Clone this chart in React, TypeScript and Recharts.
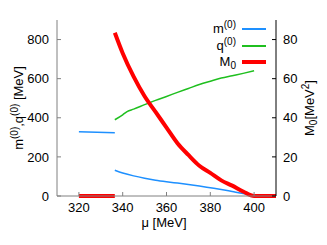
import { LineChart, Line, XAxis, YAxis } from 'recharts';

// mu grid [MeV] and values
const muM1 = [320, 336.4];
const m1 = [329, 324];
const muM2 = [336.4, 340, 345, 350, 355, 360, 365, 370, 375, 380, 385, 390, 395, 398, 400];
const m2 = [132, 118, 103, 91, 81, 73, 66, 59, 51, 42, 33, 23, 13, 6, 0];
const muQ = [336.4, 340, 342, 345, 350, 355, 360, 365, 370, 375, 380, 385, 390, 395, 400];
const q = [390, 415, 432, 444, 467, 489, 509, 530, 550, 570, 587, 603, 615, 627, 640];
const muR1 = [320, 336.4];
const r1 = [0, 0];
const muR2 = [336.4, 340, 345, 350, 355, 360, 365, 370, 375, 380, 385, 390, 395, 400, 410];
const r2 = [83.5, 73, 61, 51, 43, 35, 27, 21, 15.5, 11.8, 8, 5.3, 2.3, 0, 0];

const xTicks = [320, 340, 360, 380, 400];
const leftTicks = [0, 200, 400, 600, 800];
const rightTicks = [0, 20, 40, 60, 80];

const zip = (xs: number[], ys: number[]) => xs.map((mu, i) => ({ mu, v: ys[i] }));

const BLUE = '#1e90ff';
const GREEN = '#1fbf1f';
const RED = '#ff0000';
const GRAY = '#808080';
const FONT = '"Liberation Sans", Arial, sans-serif';

const legendItems = [
  { base: 'm', sup: '(0)', sub: '', color: BLUE, width: 2 },
  { base: 'q', sup: '(0)', sub: '', color: GREEN, width: 2 },
  { base: 'M', sup: '', sub: '0', color: RED, width: 4 },
];

// legend drawn as an overlay so it does not take room from the plot
const ChartLegend = () => (
  <div style={{ position: 'absolute', left: 180, top: 21, width: 90, fontFamily: FONT, fontSize: 13 }}>
    {legendItems.map((it, i) => (
      <div key={i} style={{ position: 'absolute', top: i * 16.5, left: 0, width: 90, height: 16, display: 'flex', alignItems: 'center' }}>
        <span style={{ width: 56, textAlign: 'right', lineHeight: '16px' }}>
          {it.base}
          {it.sup && <sup style={{ fontSize: 10, verticalAlign: '5px', lineHeight: 0 }}>{it.sup}</sup>}
          {it.sub && <sub style={{ fontSize: 10, verticalAlign: '-3px', lineHeight: 0 }}>{it.sub}</sub>}
        </span>
        <span style={{ marginLeft: 6, width: 24, height: it.width, background: it.color, display: 'inline-block' }} />
      </div>
    ))}
  </div>
);

export default function App() {
  return (
    <div style={{ position: 'absolute', left: 0, top: 0, width: 327, height: 245, background: '#fff' }}>
      <LineChart width={327} height={245} margin={{ top: 20, right: 0, bottom: 0, left: 0 }}>
        <XAxis
          dataKey="mu"
          type="number"
          domain={[310, 410]}
          ticks={xTicks}
          height={49}
          tickSize={-4}
          tickMargin={11}
          stroke={GRAY}
          tick={{ fill: '#000', fontSize: 13, fontFamily: FONT }}
          tickLine={{ stroke: GRAY }}
          allowDataOverflow
        />
        <XAxis
          xAxisId="top"
          orientation="top"
          dataKey="mu"
          type="number"
          domain={[310, 410]}
          ticks={xTicks}
          height={0}
          tickSize={-4}
          tickFormatter={() => ''}
          stroke={GRAY}
        />
        <YAxis
          yAxisId="left"
          domain={[0, 900]}
          ticks={leftTicks}
          width={57}
          tickSize={-4}
          tickMargin={12}
          stroke={GRAY}
          tick={{ fill: '#000', fontSize: 13, fontFamily: FONT }}
        />
        <YAxis
          yAxisId="right"
          orientation="right"
          domain={[0, 90]}
          ticks={rightTicks}
          width={51}
          tickSize={-4}
          tickMargin={11}
          stroke="#000"
          tick={{ fill: '#000', fontSize: 13, fontFamily: FONT }}
        />
        <Line yAxisId="left" type="linear" data={zip(muM1, m1)} dataKey="v" stroke={BLUE} strokeWidth={1.5} dot={false} isAnimationActive={false} />
        <Line yAxisId="left" type="monotone" data={zip(muM2, m2)} dataKey="v" stroke={BLUE} strokeWidth={1.5} dot={false} isAnimationActive={false} />
        <Line yAxisId="left" type="monotone" data={zip(muQ, q)} dataKey="v" stroke={GREEN} strokeWidth={1.5} dot={false} isAnimationActive={false} />
        <Line yAxisId="right" type="linear" data={zip(muR1, r1)} dataKey="v" stroke={RED} strokeWidth={4} dot={false} isAnimationActive={false} />
        <Line yAxisId="right" type="monotone" data={zip(muR2, r2)} dataKey="v" stroke={RED} strokeWidth={4} dot={false} isAnimationActive={false} />
      </LineChart>
      <ChartLegend />
      <svg width={327} height={245} style={{ position: 'absolute', left: 0, top: 0, pointerEvents: 'none' }}>
        <text transform="translate(23,108) rotate(-90)" textAnchor="middle" fontFamily={FONT} fontSize={13}>
          m<tspan dy={-5} fontSize={10}>(0)</tspan>
          <tspan dy={5}>,q</tspan>
          <tspan dy={-5} fontSize={10}>(0)</tspan>
          <tspan dy={5}> [MeV]</tspan>
        </text>
        <text transform="translate(314,108) rotate(-90)" textAnchor="middle" fontFamily={FONT} fontSize={13}>
          M<tspan dy={3} fontSize={10}>0</tspan>
          <tspan dy={-3}>[MeV</tspan>
          <tspan dy={-5} fontSize={10}>2</tspan>
          <tspan dy={5}>]</tspan>
        </text>
        <text x={164} y={227} textAnchor="middle" fontFamily={FONT} fontSize={13}>
          μ [MeV]
        </text>
      </svg>
    </div>
  );
}
